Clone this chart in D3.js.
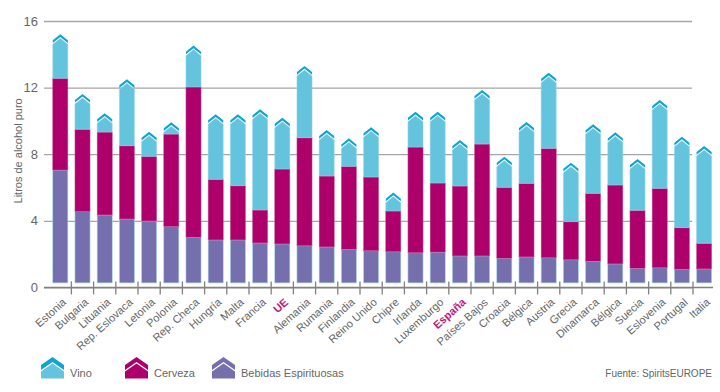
<!DOCTYPE html>
<html>
<head>
<meta charset="utf-8">
<script src="https://cdn.jsdelivr.net/npm/d3@7"></script>
<style>
  body { margin: 0; background: #fff; }
  text { font-family: "Liberation Sans", Arial, sans-serif; }
</style>
</head>
<body>
<div id="chart"></div>
<script>
// data (litros de alcohol puro per capita)
var countries = ["Estonia", "Bulgaria", "Lituania", "Rep. Eslovaca", "Letonia", "Polonia",
  "Rep. Checa", "Hungría", "Malta", "Francia", "UE", "Alemania", "Rumania", "Finlandia",
  "Reino Unido", "Chipre", "Irlanda", "Luxemburgo", "España", "Países Bajos", "Croacia",
  "Bélgica", "Austria", "Grecia", "Dinamarca", "Bélgica", "Suecia", "Eslovenia", "Portugal", "Italia"];
var espirituosas = [7.05, 4.55, 4.35, 4.11, 3.99, 3.65, 3.01, 2.85, 2.85, 2.67, 2.61, 2.50, 2.43, 2.29,
  2.20, 2.14, 2.08, 2.12, 1.89, 1.89, 1.75, 1.83, 1.78, 1.66, 1.57, 1.41, 1.15, 1.18, 1.09, 1.11];
var cerveza = [5.51, 4.95, 4.98, 4.40, 3.88, 5.56, 9.03, 3.64, 3.26, 1.98, 4.50, 6.49, 4.26, 4.98,
  4.43, 2.45, 6.35, 4.15, 4.20, 6.72, 4.26, 4.42, 6.57, 2.29, 4.08, 4.74, 3.48, 4.77, 2.50, 1.54];
var vino = [2.28, 1.76, 0.77, 3.63, 1.12, 0.35, 2.12, 3.55, 3.93, 5.69, 2.72, 3.95, 2.40, 1.32,
  2.63, 0.74, 1.76, 3.92, 2.40, 2.89, 1.48, 3.32, 4.18, 3.18, 3.79, 2.80, 2.72, 4.94, 5.10, 5.48];
var highlighted = ["UE", "España"];
var yTicks = [0, 4, 8, 12, 16];
var legendNames = ["Vino", "Cerveza", "Bebidas Espirituosas"];

var svgWidth = 720;
var svgHeight = 392;

var colors = {
  vino: "#65c4dd",
  vinoCap: "#0fa5d1",
  cerveza: "#ae006b",
  espirituosas: "#756fad",
  text: "#666",
  grid: "#a6a6a6",
  axis: "#808080",
  accent: "#c2187b"
};

var svg = d3.select("#chart")
  .append("svg")
  .attr("width", svgWidth)
  .attr("height", svgHeight);

var y = d3.scaleLinear()
  .domain([0, 16])
  .range([287.4, 21]);

var x = d3.scaleBand()
  .domain(d3.range(countries.length))
  .range([49.2, 49.2 + 22.2 * 30])
  .paddingInner(0.32)
  .paddingOuter(0.16);

// gridlines + y labels
var yAxis = svg.append("g")
  .attr("transform", "translate(44,0)")
  .call(d3.axisLeft(y).tickValues(yTicks).tickSize(-648).tickPadding(6));
yAxis.select(".domain").remove();
yAxis.selectAll(".tick line")
  .attr("stroke", colors.grid)
  .attr("stroke-width", 1.3);
yAxis.selectAll(".tick text")
  .attr("fill", colors.text)
  .style("font-size", "13px");

svg.append("text")
  .attr("transform", "translate(18," + y(8.2) + ") rotate(-90)")
  .attr("text-anchor", "middle")
  .attr("dy", "0.35em")
  .attr("fill", colors.text)
  .style("font-size", "11px")
  .text("Litros de alcohol puro");

// bars
var baseGap = 4.5;
var bw = x.bandwidth();
var rise = bw / 2 * 0.8;

countries.forEach(function(c, i) {
  var x0 = x(i), x1 = x0 + bw, xc = x0 + bw / 2;
  var s1 = espirituosas[i];
  var b1 = s1 + cerveza[i];
  var t = b1 + vino[i];
  var g = svg.append("g");

  g.append("rect")
    .attr("x", x0)
    .attr("width", bw)
    .attr("y", y(s1))
    .attr("height", y(0) - baseGap - y(s1))
    .attr("fill", colors.espirituosas)
    .attr("stroke", "#a9d8ec")
    .attr("stroke-width", 0.6);

  g.append("rect")
    .attr("x", x0)
    .attr("width", bw)
    .attr("y", y(b1))
    .attr("height", y(s1) - y(b1))
    .attr("fill", colors.cerveza)
    .attr("stroke", "#c45a96")
    .attr("stroke-width", 0.5);

  var ys = y(t);
  var th = 2.7;
  var top = ys + th + 1.3;
  g.append("path")
    .attr("d", "M" + x0 + "," + y(b1) + "L" + x0 + "," + top + "L" + xc + "," + (top - rise) +
      "L" + x1 + "," + top + "L" + x1 + "," + y(b1) + "Z")
    .attr("fill", colors.vino)
    .attr("stroke", "#9ad7ea")
    .attr("stroke-width", 0.5);

  g.append("path")
    .attr("d", "M" + x0 + "," + ys + "L" + xc + "," + (ys - rise) + "L" + x1 + "," + ys +
      "L" + x1 + "," + (ys + th) + "L" + xc + "," + (ys - rise + th) + "L" + x0 + "," + (ys + th) + "Z")
    .attr("fill", colors.vinoCap);
});

// x axis line, separators and labels
svg.append("line")
  .attr("x1", 44).attr("x2", 713)
  .attr("y1", y(0)).attr("y2", y(0))
  .attr("stroke", colors.axis)
  .attr("stroke-width", 1.5);

var step = x.step();
svg.selectAll(".sep")
  .data(d3.range(1, countries.length))
  .enter()
  .append("line")
  .attr("class", "sep")
  .attr("x1", function(d) { return x(d) - step * x.paddingInner() / 2; })
  .attr("x2", function(d) { return x(d) - step * x.paddingInner() / 2; })
  .attr("y1", y(0) - 6)
  .attr("y2", y(0) + 7)
  .attr("stroke", colors.axis)
  .attr("stroke-width", 1.3);

svg.selectAll(".xlabel")
  .data(countries)
  .enter()
  .append("text")
  .attr("class", "xlabel")
  .attr("transform", function(d, i) {
    return "translate(" + (x(i) + bw / 2 + 4) + "," + (y(0) + 13) + ") rotate(-42)";
  })
  .attr("text-anchor", "end")
  .attr("dy", "0.35em")
  .attr("fill", function(d) { return highlighted.indexOf(d) >= 0 ? colors.accent : colors.text; })
  .style("font-weight", function(d) { return highlighted.indexOf(d) >= 0 ? "bold" : "normal"; })
  .style("font-size", "11px")
  .text(function(d) { return d; });

// legend
var legendX = [41, 125, 212];
var legendFill = [colors.vino, colors.cerveza, colors.espirituosas];
var legendCap = [colors.vinoCap, colors.cerveza, colors.espirituosas];
var ly = 357;
legendNames.forEach(function(name, i) {
  var lx = legendX[i], w = 23, h = w / 2;
  var g = svg.append("g");
  g.append("path")
    .attr("d", "M" + lx + "," + (ly + 8) + "L" + (lx + h) + "," + ly + "L" + (lx + w) + "," + (ly + 8) +
      "L" + (lx + w) + "," + (ly + 13) + "L" + (lx + h) + "," + (ly + 5) + "L" + lx + "," + (ly + 13) + "Z")
    .attr("fill", legendCap[i]);
  g.append("path")
    .attr("d", "M" + lx + "," + (ly + 21.5) + "L" + lx + "," + (ly + 14.5) + "L" + (lx + h) + "," + (ly + 6.5) +
      "L" + (lx + w) + "," + (ly + 14.5) + "L" + (lx + w) + "," + (ly + 21.5) + "Z")
    .attr("fill", legendFill[i]);
  g.append("text")
    .attr("x", lx + 29)
    .attr("y", ly + 20)
    .attr("fill", colors.text)
    .style("font-size", "11px")
    .text(name);
});

svg.append("text")
  .attr("x", 712)
  .attr("y", 377)
  .attr("text-anchor", "end")
  .attr("fill", colors.text)
  .style("font-size", "10px")
  .text("Fuente: SpiritsEUROPE");
</script>
</body>
</html>
